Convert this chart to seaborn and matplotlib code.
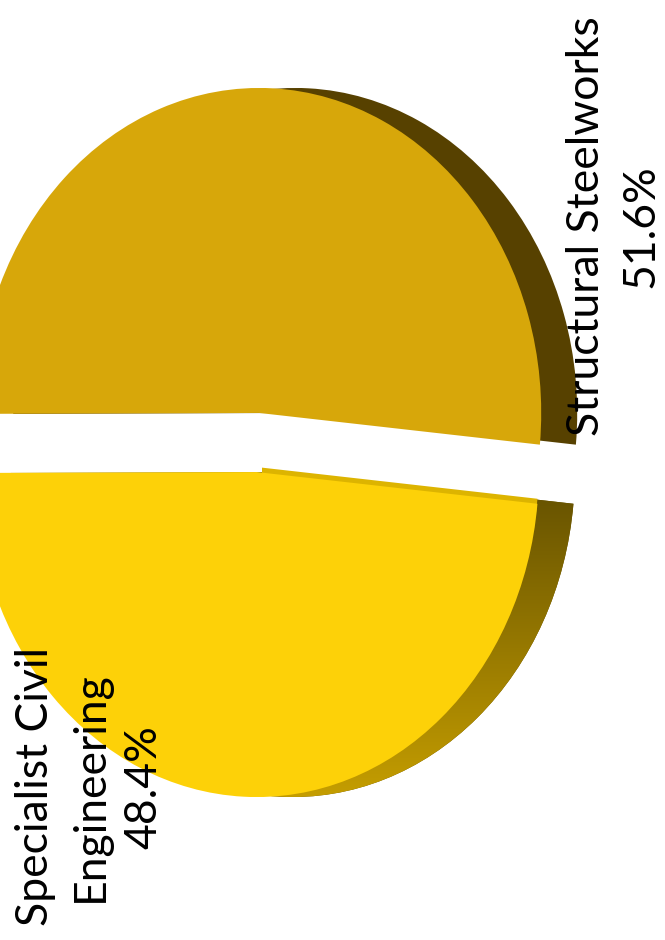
import numpy as np
import matplotlib
matplotlib.use("Agg")
import matplotlib.pyplot as plt
import seaborn as sns
from matplotlib.colors import LinearSegmentedColormap
from matplotlib.patches import Rectangle

# ---- data ----
categories = ["Structural Steelworks", "Specialist Civil Engineering"]
label_text = ["Structural Steelworks", "Specialist Civil\nEngineering"]
shares = [51.6, 48.4]

# ---- styles ----
top_colors = ["#D7A70A", "#FDD108"]
side_top = "#574100"
side_grad = ["#665200", "#D2A800"]
edge_light = "#DDB400"

sns.set_theme(style="white")
plt.rcParams["font.family"] = ["Lato", "DejaVu Sans"]

W, H = 665, 940
fig = plt.figure(figsize=(W / 100, H / 100), dpi=100)
ax = fig.add_axes([0, 0, 1, 1])

cx, cy = 258, 442.5   # pie centre in pixels
rx, ry = 282, 325     # squashed (tilted) radii in pixels


def px2d(x, y):
    return ((x - cx) / rx, (cy - y) / ry)


start = -5.6
explode = [0.091, 0.091]
depth = 36 / rx

# side (depth) layer
side_wedges, _ = ax.pie(shares, startangle=start, explode=explode, center=(depth, 0),
                        colors=[side_top, side_grad[0]], counterclock=True,
                        wedgeprops=dict(linewidth=0, zorder=1))
grad = np.linspace(0, 1, 256).reshape(-1, 1)
cmap = LinearSegmentedColormap.from_list("side", side_grad)
x0, y0 = px2d(150, 490)
x1, y1 = px2d(640, 840)
im = ax.imshow(grad, cmap=cmap, extent=(x0, x1, y1, y0), origin="upper",
               aspect="auto", zorder=1.5)
im.set_clip_path(side_wedges[1])

# thin visible cut face on the lower slice (sloped edge only)
edge_wedges, _ = ax.pie(shares, startangle=start, explode=explode, center=(0, 5 / ry),
                        colors=["none", edge_light], counterclock=True,
                        wedgeprops=dict(linewidth=0, zorder=2))
cx0, cy0 = px2d(262, 520)
cx1, cy1 = px2d(545, 440)
clip = Rectangle((cx0, cy0), cx1 - cx0, cy1 - cy0, transform=ax.transData)
edge_wedges[1].set_clip_path(clip)
edge_wedges[1].set_clip_on(True)

# top surface
ax.pie(shares, startangle=start, explode=explode, colors=top_colors,
       counterclock=True, wedgeprops=dict(linewidth=0, zorder=3))

ax.set_aspect("auto")
ax.set_xlim(px2d(0, 0)[0], px2d(W, 0)[0])
ax.set_ylim(px2d(0, H)[1], px2d(0, 0)[1])
ax.axis("off")

labels = [f"{t}\n{v:.1f}%" for t, v in zip(label_text, shares)]
pos = [(614, 226), (90, 787)]
for lab, (px, py) in zip(labels, pos):
    ax.text(*px2d(px, py), lab, rotation=90, ha="center", va="center",
            multialignment="center", fontsize=32, linespacing=1.4,
            color="black", zorder=5)

fig.savefig("out.png", dpi=100, facecolor="white")
